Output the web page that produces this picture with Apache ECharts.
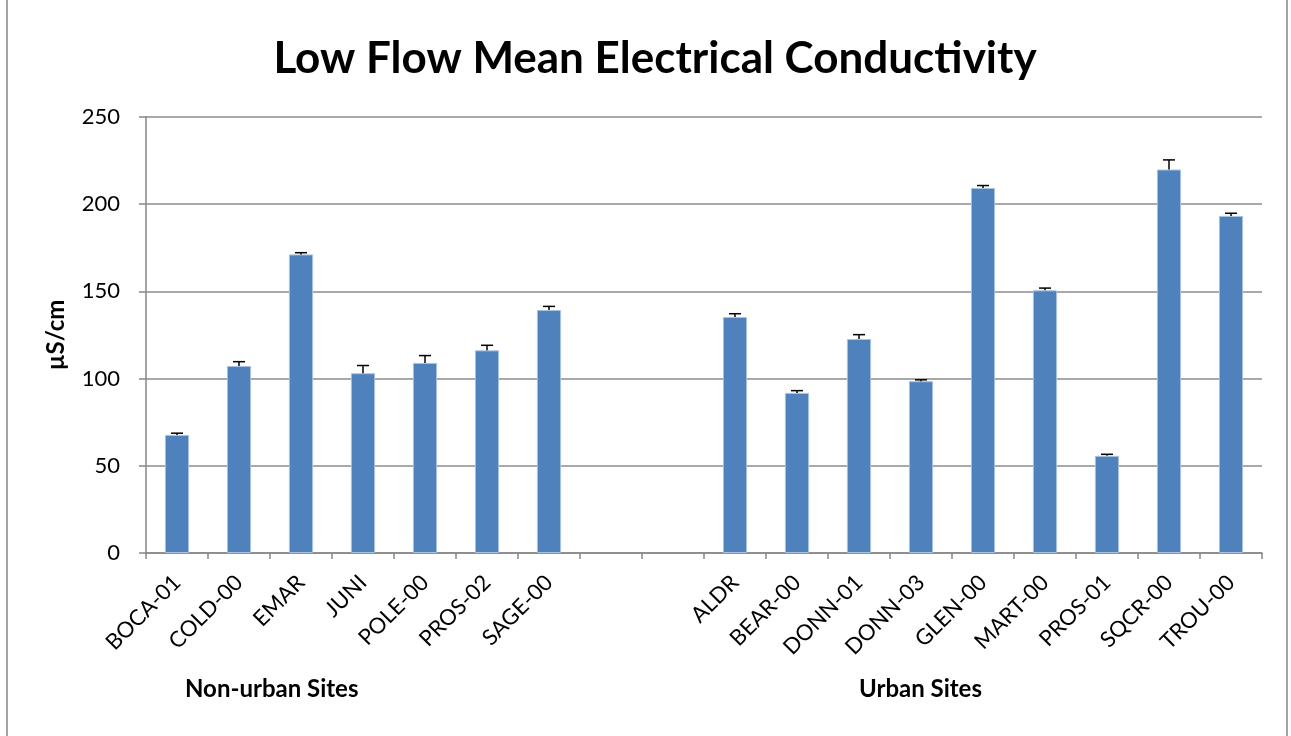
<!DOCTYPE html>
<html>
<head>
<meta charset="utf-8">
<script src="https://cdn.jsdelivr.net/npm/echarts@6/dist/echarts.min.js"></script>
<style>
  html, body { margin: 0; padding: 0; background: #fff; }
  #chart { width: 1291px; height: 736px; }
</style>
</head>
<body>
<div id="chart"></div>
<script>
// Site codes; two empty slots separate the non-urban and urban groups
const sites = ['BOCA-01', 'COLD-00', 'EMAR', 'JUNI', 'POLE-00', 'PROS-02', 'SAGE-00', '', '',
  'ALDR', 'BEAR-00', 'DONN-01', 'DONN-03', 'GLEN-00', 'MART-00', 'PROS-01', 'SQCR-00', 'TROU-00'];
// Mean electrical conductivity at low flow (µS/cm)
const meanEC = [67.7, 107.2, 171.2, 103.1, 109.0, 116.2, 139.3, null, null,
  135.3, 91.8, 122.7, 98.5, 209.3, 150.6, 55.7, 219.9, 193.3];
// Upper error bar length (µS/cm)
const errorEC = [1.0, 2.5, 1.0, 4.4, 4.2, 2.9, 2.1, null, null,
  1.9, 1.3, 2.5, 0.8, 1.4, 1.3, 0.9, 5.5, 1.5];
const yTicks = [0, 50, 100, 150, 200, 250];
const groupNames = ['Non-urban Sites', 'Urban Sites'];

const FONT = 'Lato, "Open Sans", sans-serif';

const errorData = [];
meanEC.forEach((v, i) => {
  if (v != null) errorData.push([i, v, v + errorEC[i]]);
});

const chart = echarts.init(document.getElementById('chart'));

const option = {
  animation: false,
  backgroundColor: '#fff',
  title: {
    text: 'Low Flow Mean Electrical Conductivity',
    left: 650, top: 32, textAlign: 'center',
    textStyle: { fontFamily: FONT, fontWeight: 'bold', fontSize: 44, color: '#000' }
  },
  grid: { left: 146, right: 29, top: 117, bottom: 183, containLabel: false },
  xAxis: {
    type: 'category',
    data: sites,
    boundaryGap: true,
    axisLine: { lineStyle: { color: '#868686', width: 1.5 } },
    axisTick: { show: true, alignWithLabel: false, interval: 0, length: 6, lineStyle: { color: '#868686', width: 1.5 } },
    axisLabel: {
      interval: 0, rotate: 45, margin: 26,
      fontFamily: FONT, fontSize: 22, color: '#000'
    }
  },
  yAxis: {
    type: 'value',
    min: yTicks[0], max: yTicks[yTicks.length - 1], interval: 50,
    name: 'µS/cm',
    nameLocation: 'middle', nameGap: 78, nameRotate: 90,
    nameTextStyle: { fontFamily: FONT, fontWeight: 'bold', fontSize: 24, color: '#000' },
    axisLine: { show: true, lineStyle: { color: '#868686', width: 1.5 } },
    axisTick: { show: true, length: 7, lineStyle: { color: '#868686', width: 1.5 } },
    axisLabel: { margin: 26, fontFamily: FONT, fontSize: 22, color: '#000' },
    splitLine: { lineStyle: { color: '#8c8c8c', width: 1.5 } }
  },
  series: [
    {
      type: 'bar',
      data: meanEC,
      barWidth: '39%',
      itemStyle: { color: '#4f81bd', borderColor: '#a9c2e0', borderWidth: 1 },
      z: 2
    },
    {
      type: 'custom',
      data: errorData,
      z: 3,
      renderItem: function (params, api) {
        const base = api.coord([api.value(0), api.value(1)]);
        const top = api.coord([api.value(0), api.value(2)]);
        const half = 6;
        const style = { stroke: '#000', lineWidth: 1.5 };
        return {
          type: 'group',
          children: [
            { type: 'line', shape: { x1: base[0], y1: base[1], x2: top[0], y2: top[1] }, style: style },
            { type: 'line', shape: { x1: top[0] - half, y1: top[1], x2: top[0] + half, y2: top[1] }, style: style }
          ]
        };
      }
    }
  ],
  graphic: [
    {
      type: 'rect', silent: true,
      shape: { x: 7, y: -10, width: 1280, height: 760 },
      style: { fill: null, stroke: '#868686', lineWidth: 1.5 }
    },
    {
      type: 'text', left: 185, top: 677,
      style: { text: groupNames[0], fontFamily: FONT, fontWeight: 'bold', fontSize: 24, fill: '#000' }
    },
    {
      type: 'text', left: 859, top: 677,
      style: { text: groupNames[1], fontFamily: FONT, fontWeight: 'bold', fontSize: 24, fill: '#000' }
    }
  ]
};

chart.setOption(option);
</script>
</body>
</html>
